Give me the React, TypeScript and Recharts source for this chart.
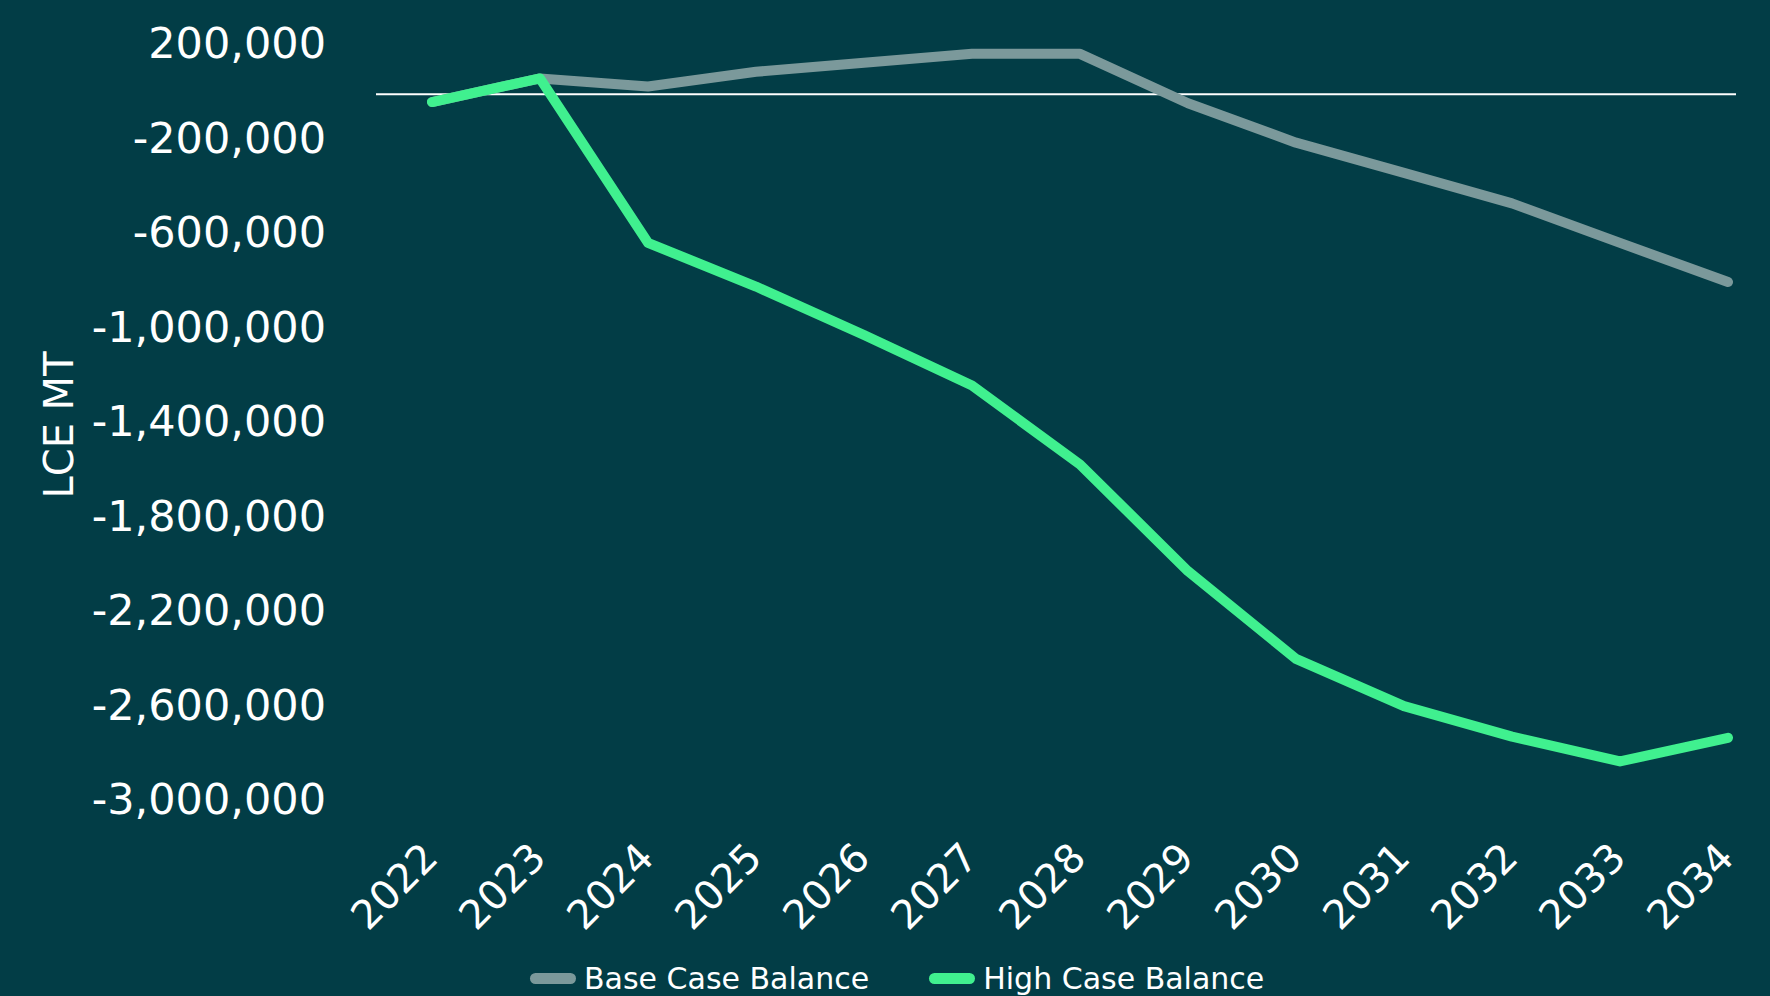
import React from 'react';
import { LineChart, Line, XAxis, YAxis, ReferenceLine, Legend, Label } from 'recharts';

const years = ['2022', '2023', '2024', '2025', '2026', '2027', '2028', '2029', '2030', '2031', '2032', '2033', '2034'];
const baseCase = [-33000, 67000, 33000, 95000, 133000, 171000, 171000, -38000, -205000, -333000, -462000, -629000, -795000];
const highCase = [-33000, 67000, -629000, -814000, -1019000, -1233000, -1567000, -2019000, -2390000, -2590000, -2719000, -2824000, -2724000];
const yTicks = [200000, -200000, -600000, -1000000, -1400000, -1800000, -2200000, -2600000, -3000000];
const seriesNames = ['Base Case Balance', 'High Case Balance'];
const yAxisTitle = 'LCE MT';

const BG = '#023D46';
const GRAY = '#7B999B';
const GREEN = '#40F08F';
const FONT = '"DejaVu Sans", sans-serif';

const data = years.map((y, i) => ({ year: y, base: baseCase[i], high: highCase[i] }));

const fmt = (v: number) => v.toLocaleString('en-US');

const XTick = (props: any) => {
  const { x, y, payload } = props;
  return (
    <g transform={`translate(${x - 2},${y + 47})`}>
      <text x={0} y={0} dy="0.35em" textAnchor="end" transform="rotate(-45)" fill="#ffffff" fontSize={40} fontFamily={FONT}>
        {payload.value}
      </text>
    </g>
  );
};

const YTick = (props: any) => {
  const { x, y, payload } = props;
  return (
    <text x={x} y={y - 4} textAnchor="end" dominantBaseline="central" fill="#ffffff" fontSize={43} fontFamily={FONT}>
      {fmt(payload.value)}
    </text>
  );
};

const YTitle = (props: any) => {
  const vb = props.viewBox || {};
  const cx = vb.x + 59;
  const cy = vb.y + vb.height / 2;
  return (
    <text x={cx} y={cy} transform={`rotate(-90, ${cx}, ${cy})`} textAnchor="middle" dominantBaseline="central" fill="#ffffff" fontSize={40} fontFamily={FONT}>
      {yAxisTitle}
    </text>
  );
};

const LegendContent = () => {
  const colors = [GRAY, GREEN];
  return (
    <div style={{ display: 'flex', alignItems: 'center', height: 36, paddingLeft: 530, fontFamily: FONT, fontSize: 30, color: '#ffffff', whiteSpace: 'nowrap' }}>
      {seriesNames.map((n, i) => (
        <div key={n} style={{ display: 'flex', alignItems: 'center', marginRight: 60 }}>
          <div style={{ width: 46, height: 11, borderRadius: 6, background: colors[i], marginRight: 8 }} />
          <span>{n}</span>
        </div>
      ))}
    </div>
  );
};

export default function App() {
  return (
    <div style={{ position: 'absolute', left: 0, top: 0, width: 1770, height: 996, background: BG, overflow: 'hidden' }}>
      <LineChart width={1770} height={996} data={data} margin={{ top: 47, right: 34, left: 0, bottom: 0 }}>
        <XAxis
          dataKey="year"
          padding={{ left: 56, right: 8 }}
          axisLine={false}
          tickLine={false}
          tickSize={0}
          tickMargin={0}
          height={157}
          interval={0}
          tick={<XTick />}
        />
        <YAxis
          width={376}
          domain={[-3000000, 200000]}
          ticks={yTicks}
          axisLine={false}
          tickLine={false}
          tickSize={0}
          tickMargin={50}
          tick={<YTick />}
          interval={0}
        >
          <Label content={<YTitle />} />
        </YAxis>
        <ReferenceLine y={0} stroke="#ffffff" strokeWidth={2} />
        <Line type="linear" dataKey="base" name={seriesNames[0]} stroke={GRAY} strokeWidth={10} dot={false} strokeLinecap="round" strokeLinejoin="round" isAnimationActive={false} />
        <Line type="linear" dataKey="high" name={seriesNames[1]} stroke={GREEN} strokeWidth={10} dot={false} strokeLinecap="round" strokeLinejoin="round" isAnimationActive={false} />
        <Legend verticalAlign="bottom" content={<LegendContent />} wrapperStyle={{ left: 0, bottom: 0, width: 1770 }} />
      </LineChart>
    </div>
  );
}
